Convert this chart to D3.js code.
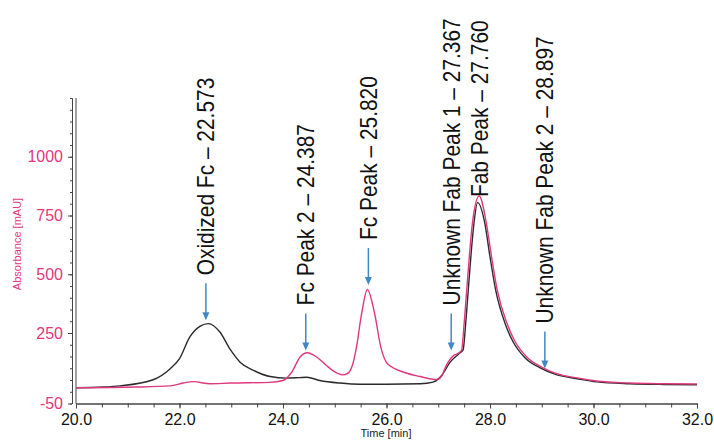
<!DOCTYPE html>
<html lang="en">
<head>
  <meta charset="UTF-8">
  <title>Chromatogram</title>
  <style>
    body { margin: 0; background: #fff; }
    text { font-family: "Liberation Sans", Arial, sans-serif; }
  </style>
</head>
<body>
  <script src="https://cdn.jsdelivr.net/npm/d3@7/dist/d3.min.js"></script>
  <script>
// canvas
const width = 714
const height = 441

// black trace (time [min], absorbance [mAU])
const blackTime = [20.0, 20.53, 20.85, 21.49, 21.82, 22.0, 22.2, 22.4, 22.56, 22.78, 22.98, 23.17, 23.43, 23.75,
  24.07, 24.3, 24.46, 24.71, 25.1, 25.49, 26.0, 26.65, 26.9, 27.07, 27.23, 27.39, 27.48, 27.53, 27.58, 27.63,
  27.69, 27.76, 27.9, 28.0, 28.11, 28.3, 28.44, 28.68, 28.97, 29.24, 29.74, 30.06, 30.7, 31.35, 32.0]
const blackValue = [17, 20, 25, 51, 98, 141, 233, 279, 290, 254, 180, 126, 91, 65,
  58, 60, 62, 48, 37, 32, 32, 34, 41, 70, 126, 160, 178, 290, 432, 574,
  717, 805, 717, 574, 432, 285, 215, 144, 102, 76, 53, 42, 34, 31, 30]

// pink trace
const pinkTime = [20.0, 21.17, 21.82, 22.07, 22.27, 22.59, 22.98, 23.75, 24.0, 24.17, 24.33, 24.47, 24.65, 24.84,
  24.95, 25.16, 25.25, 25.35, 25.42, 25.52, 25.63, 25.77, 25.89, 26.02, 26.35, 26.65, 26.97, 27.05, 27.17,
  27.3, 27.38, 27.45, 27.5, 27.55, 27.6, 27.66, 27.79, 27.93, 28.03, 28.14, 28.33, 28.47, 28.71, 29.0,
  29.26, 29.74, 30.06, 30.7, 31.35, 32.0]
const pinkValue = [17, 20, 25, 37, 43, 34, 37, 40, 48, 84, 148, 166, 148, 112,
  92, 72, 78, 119, 190, 333, 435, 333, 190, 119, 82, 65, 52, 62, 119,
  155, 163, 176, 290, 432, 574, 717, 833, 717, 574, 432, 290, 219, 148, 105,
  79, 57, 46, 37, 34, 33]

// peak annotations
const peakLabels = ['Oxidized Fc \u2013 22.573', 'Fc Peak 2 \u2013 24.387', 'Fc Peak \u2013 25.820',
  'Unknown Fab Peak 1 \u2013 27.367', 'Fab Peak \u2013 27.760', 'Unknown Fab Peak 2 \u2013 28.897']
const peakTime = [22.51, 24.44, 25.65, 27.25, 27.79, 29.06]
const peakTip = [304, 176, 454, 176, 637, 99]      // arrow tip level [mAU]
const peakArrow = [true, true, true, true, false, true]

// axis ticks
const xTicks = [20, 22, 24, 26, 28, 30, 32]
const yTicks = [-50, 250, 500, 750, 1000]

const pink = '#e0387f'
const arrowColor = '#3f88c8'

const svg = d3.select('body').append('svg')
  .attr('width', width)
  .attr('height', height)

const xScale = d3.scaleLinear().domain([20, 32]).range([76, 697])
const yScale = d3.scaleLinear().domain([-50, 1250]).range([403.5, 98])

// x axis - minor ticks then major
svg.append('g')
  .attr('transform', 'translate(0,403.5)')
  .call(d3.axisBottom(xScale).tickValues(d3.range(20, 32.01, 0.5)).tickSize(4).tickSizeOuter(0).tickFormat(''))
const xAxis = svg.append('g')
  .attr('transform', 'translate(0,403.5)')
  .call(d3.axisBottom(xScale).tickValues(xTicks).tickSize(5).tickSizeOuter(0).tickPadding(5).tickFormat(d3.format('.1f')))
xAxis.selectAll('text').attr('font-size', 16).attr('fill', '#111').attr('font-family', '"Liberation Sans", Arial, sans-serif')

// y axis
svg.append('g')
  .attr('transform', 'translate(72,0)')
  .call(d3.axisLeft(yScale).tickValues(d3.range(-50, 1251, 50)).tickSize(2).tickSizeOuter(0).tickFormat(''))
const yAxis = svg.append('g')
  .attr('transform', 'translate(72,0)')
  .call(d3.axisLeft(yScale).tickValues(yTicks).tickSize(4).tickSizeOuter(0).tickPadding(5).tickFormat(d => String(d)))
yAxis.selectAll('text').attr('font-size', 16).attr('fill', pink).attr('font-family', '"Liberation Sans", Arial, sans-serif')

svg.selectAll('.domain, .tick line').attr('stroke', '#444')

// left frame line of the plot
svg.append('line')
  .attr('x1', xScale(20)).attr('x2', xScale(20))
  .attr('y1', yScale(1250)).attr('y2', yScale(-50))
  .attr('stroke', '#444')

// axis titles
svg.append('text')
  .attr('x', 386).attr('y', 437)
  .attr('text-anchor', 'middle')
  .attr('font-size', 11)
  .attr('fill', '#222')
  .text('Time [min]')

svg.append('text')
  .attr('transform', 'translate(21,244) rotate(-90)')
  .attr('text-anchor', 'middle')
  .attr('font-size', 11)
  .attr('fill', pink)
  .text('Absorbance [mAU]')

// traces
const line = d3.line()
  .x(d => xScale(d[0]))
  .y(d => yScale(d[1]))
  .curve(d3.curveMonotoneX)

svg.append('path')
  .datum(blackTime.map((t, i) => [t, blackValue[i]]))
  .attr('d', line)
  .attr('fill', 'none')
  .attr('stroke', '#2b2b2b')
  .attr('stroke-width', 1.4)

svg.append('path')
  .datum(pinkTime.map((t, i) => [t, pinkValue[i]]))
  .attr('d', line)
  .attr('fill', 'none')
  .attr('stroke', pink)
  .attr('stroke-width', 1.4)

// annotations
const peaks = peakLabels.map((label, i) => ({
  label, t: peakTime[i], tip: peakTip[i], arrow: peakArrow[i]
}))

const ann = svg.selectAll('.peak')
  .data(peaks)
  .enter()
  .append('g')
  .attr('class', 'peak')

ann.filter(d => d.arrow)
  .append('line')
  .attr('x1', d => xScale(d.t)).attr('x2', d => xScale(d.t))
  .attr('y1', d => yScale(d.tip) - 37).attr('y2', d => yScale(d.tip) - 6)
  .attr('stroke', arrowColor)
  .attr('stroke-width', 1.5)

ann.filter(d => d.arrow)
  .append('path')
  .attr('d', d => {
    const x = xScale(d.t), y = yScale(d.tip)
    return `M${x},${y} L${x - 3.5},${y - 8} L${x + 3.5},${y - 8} Z`
  })
  .attr('fill', arrowColor)

ann.append('text')
  .attr('transform', d => `translate(${xScale(d.t) + 8.5},${yScale(d.tip) - 45}) rotate(-90) scale(0.91,1)`)
  .attr('font-size', 23)
  .attr('fill', '#111')
  .text(d => d.label)
  </script>
</body>
</html>
